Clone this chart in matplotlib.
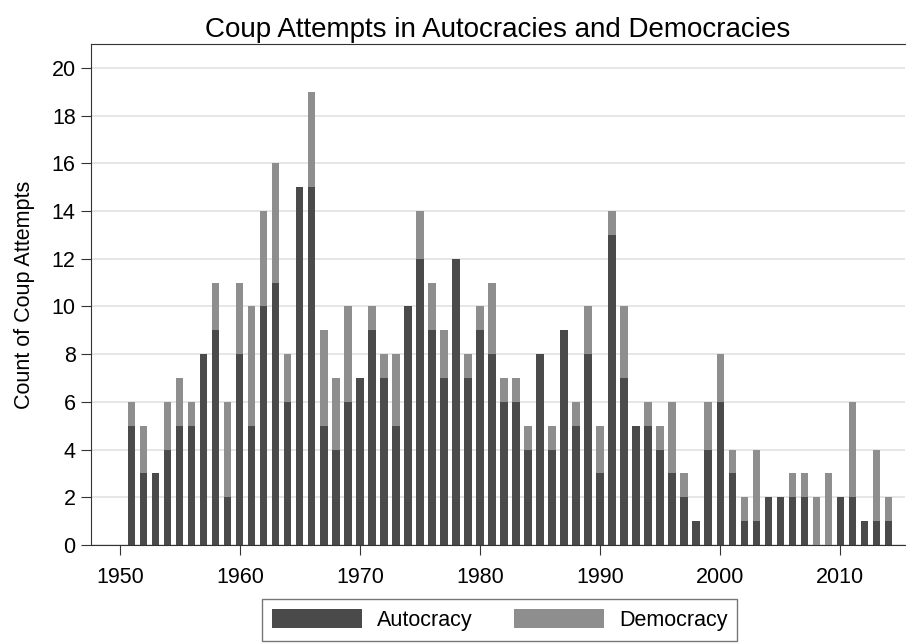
import numpy as np
import matplotlib
matplotlib.use("Agg")
import matplotlib.pyplot as plt

# Coup attempts per year, split by regime type
years = list(range(1951, 2015))
autocracy = [5, 3, 3, 4, 5, 5, 8, 9, 2, 8,
             5, 10, 11, 6, 15, 15, 5, 4, 6, 7,
             9, 7, 5, 10, 12, 9, 7, 12, 7, 9,
             8, 6, 6, 4, 8, 4, 9, 5, 8, 3,
             13, 7, 5, 5, 4, 3, 2, 1, 4, 6,
             3, 1, 1, 2, 2, 2, 2, 0, 0, 2,
             2, 1, 1, 1]
totals = [6, 5, 3, 6, 7, 6, 8, 11, 6, 11,
          10, 14, 16, 8, 15, 19, 9, 7, 10, 7,
          10, 8, 8, 10, 14, 11, 9, 12, 8, 10,
          11, 7, 7, 5, 8, 5, 9, 6, 10, 5,
          14, 10, 5, 6, 5, 6, 3, 1, 6, 8,
          4, 2, 4, 2, 2, 3, 3, 2, 3, 2,
          6, 1, 4, 2]
democracy = [t - a for t, a in zip(totals, autocracy)]

plt.rcParams['font.family'] = ['Liberation Sans', 'DejaVu Sans']

fig = plt.figure(figsize=(9.08, 6.44), dpi=100)
ax = fig.add_axes([0.1002, 0.1537, 0.8965, 0.778])

dark = '#4a4a4a'
light = '#8e8e8e'
ax.bar(years, autocracy, width=0.6, color=dark, label='Autocracy', zorder=2)
ax.bar(years, democracy, width=0.6, bottom=autocracy, color=light,
       label='Democracy', zorder=2)

ax.set_xlim(1947.6, 2015.4)
ax.set_ylim(0, 21)
ax.set_yticks(range(0, 21, 2))
ax.set_xticks(range(1950, 2011, 10))
ax.yaxis.grid(True, color='#e2e2e2', linewidth=1.2, zorder=0)
ax.set_axisbelow(True)

ax.spines['right'].set_visible(False)
for side in ['top', 'left', 'bottom']:
    ax.spines[side].set_color('#333333')
ax.tick_params(axis='both', labelsize=15.5, length=7, color='#333333')
ax.tick_params(axis='y', pad=4)
ax.tick_params(axis='x', pad=9)

ax.set_ylabel('Count of Coup Attempts', fontsize=15.5, labelpad=12)
ax.set_title('Coup Attempts in Autocracies and Democracies', fontsize=20, pad=5)

leg = ax.legend(loc='upper center', bbox_to_anchor=(0.502, -0.108), ncol=2,
                fontsize=15.5, frameon=True, fancybox=False, edgecolor='#555555',
                handlelength=4.2, handleheight=1.0, handletextpad=0.7,
                columnspacing=1.9, borderpad=0.45, borderaxespad=0)
leg.get_frame().set_linewidth(1.0)

fig.savefig('out.png', dpi=100)
